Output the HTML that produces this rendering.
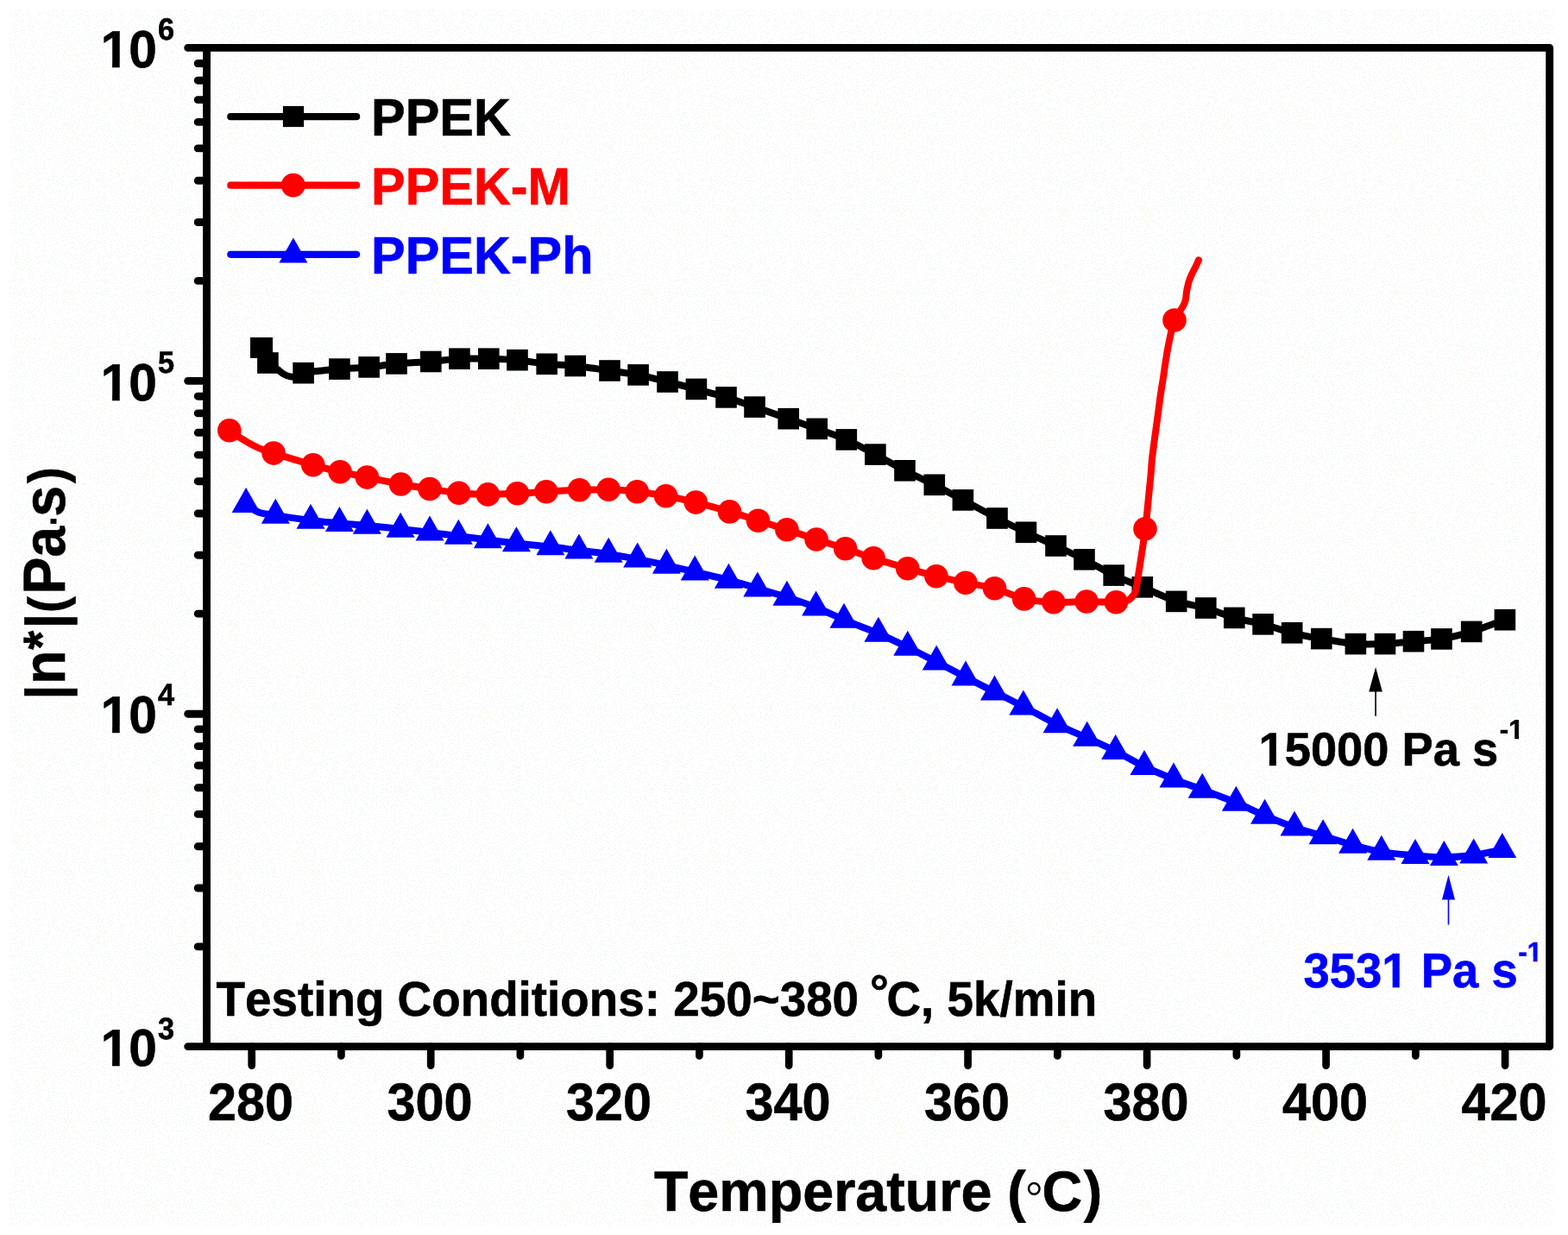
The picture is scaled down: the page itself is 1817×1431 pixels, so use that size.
<!DOCTYPE html>
<html lang="en"><head><meta charset="utf-8"><title>Complex viscosity vs temperature</title>
<style>html,body{margin:0;padding:0;background:#fff}body{width:1817px;height:1431px;overflow:hidden}svg{display:block}text{font-family:"Liberation Sans",sans-serif;font-weight:bold;font-kerning:none;text-rendering:geometricPrecision}</style>
</head><body>
<svg width="1817" height="1431" viewBox="0 0 1817 1431" role="img" aria-label="Complex viscosity versus temperature for PPEK, PPEK-M and PPEK-Ph">
<defs><pattern id="nz" width="96" height="96" patternUnits="userSpaceOnUse">
<rect width="96" height="96" fill="#fff"/>
<path fill="#e3f0f1" d="M57 71h1v1h-1zM65 75h1v1h-1zM24 23h1v1h-1zM65 60h1v1h-1zM23 12h1v1h-1zM57 38h1v1h-1zM18 11h1v1h-1zM76 50h1v1h-1zM57 83h1v1h-1zM79 1h1v1h-1zM29 81h1v1h-1zM37 63h1v1h-1zM83 35h1v1h-1zM10 90h1v1h-1zM8 72h1v1h-1zM13 51h1v1h-1zM2 87h1v1h-1zM90 50h1v1h-1zM72 80h1v1h-1zM25 86h1v1h-1zM11 39h1v1h-1zM90 12h1v1h-1zM1 7h1v1h-1zM59 62h1v1h-1zM16 53h1v1h-1zM23 50h1v1h-1zM77 82h1v1h-1zM73 12h1v1h-1zM33 1h1v1h-1zM78 42h1v1h-1zM9 9h1v1h-1zM76 47h1v1h-1zM58 16h1v1h-1zM75 61h1v1h-1zM80 19h1v1h-1zM39 29h1v1h-1zM20 94h1v1h-1zM80 70h1v1h-1zM49 61h1v1h-1zM77 10h1v1h-1zM13 13h1v1h-1zM4 65h1v1h-1zM32 30h1v1h-1zM94 90h1v1h-1zM50 32h1v1h-1zM53 76h1v1h-1zM66 22h1v1h-1zM92 8h1v1h-1zM83 78h1v1h-1zM26 95h1v1h-1zM34 52h1v1h-1zM57 31h1v1h-1zM47 67h1v1h-1zM17 57h1v1h-1zM42 84h1v1h-1zM17 75h1v1h-1zM8 93h1v1h-1zM39 40h1v1h-1zM69 47h1v1h-1zM90 16h1v1h-1zM43 45h1v1h-1zM60 9h1v1h-1zM63 73h1v1h-1zM84 48h1v1h-1zM14 32h1v1h-1zM42 49h1v1h-1zM56 59h1v1h-1zM66 65h1v1h-1zM3 39h1v1h-1zM78 84h1v1h-1zM62 32h1v1h-1zM1 47h1v1h-1zM84 56h1v1h-1zM41 51h1v1h-1zM85 32h1v1h-1zM27 49h1v1h-1zM40 26h1v1h-1zM17 17h1v1h-1zM5 91h1v1h-1zM8 35h1v1h-1zM21 14h1v1h-1zM52 48h1v1h-1zM4 35h1v1h-1zM86 90h1v1h-1zM35 73h1v1h-1zM45 39h1v1h-1zM17 51h1v1h-1zM58 24h1v1h-1zM30 18h1v1h-1zM1 60h1v1h-1zM89 66h1v1h-1zM20 50h1v1h-1zM72 83h1v1h-1zM83 26h1v1h-1zM12 92h1v1h-1zM31 49h1v1h-1zM68 41h1v1h-1zM4 56h1v1h-1zM53 35h1v1h-1zM27 8h1v1h-1zM19 66h1v1h-1zM92 66h1v1h-1zM71 37h1v1h-1zM81 21h1v1h-1zM39 85h1v1h-1zM26 38h1v1h-1zM18 69h1v1h-1zM25 52h1v1h-1zM68 14h1v1h-1zM3 68h1v1h-1zM72 15h1v1h-1zM88 21h1v1h-1zM8 68h1v1h-1zM43 55h1v1h-1zM60 67h1v1h-1zM40 13h1v1h-1zM89 2h1v1h-1zM19 29h1v1h-1zM31 79h1v1h-1zM63 13h1v1h-1zM78 75h1v1h-1zM93 11h1v1h-1zM12 55h1v1h-1zM87 45h1v1h-1zM46 14h1v1h-1zM24 9h1v1h-1zM3 4h1v1h-1zM61 18h1v1h-1zM36 86h1v1h-1zM12 74h1v1h-1zM9 12h1v1h-1zM59 54h1v1h-1zM52 58h1v1h-1zM46 94h1v1h-1zM47 51h1v1h-1zM51 72h1v1h-1zM43 33h1v1h-1zM17 42h1v1h-1zM47 55h1v1h-1zM9 49h1v1h-1zM65 63h1v1h-1zM78 13h1v1h-1zM94 30h1v1h-1zM32 56h1v1h-1zM51 64h1v1h-1zM33 32h1v1h-1zM65 53h1v1h-1zM5 49h1v1h-1zM36 67h1v1h-1zM34 71h1v1h-1zM52 87h1v1h-1zM40 95h1v1h-1zM50 6h1v1h-1zM28 54h1v1h-1zM67 19h1v1h-1zM33 81h1v1h-1zM17 37h1v1h-1zM93 16h1v1h-1zM39 64h1v1h-1zM35 34h1v1h-1zM35 30h1v1h-1zM7 1h1v1h-1zM61 61h1v1h-1zM45 26h1v1h-1zM41 37h1v1h-1zM72 72h1v1h-1zM35 56h1v1h-1zM28 51h1v1h-1zM46 46h1v1h-1zM86 50h1v1h-1zM74 49h1v1h-1zM72 47h1v1h-1zM58 36h1v1h-1zM74 69h1v1h-1zM39 69h1v1h-1zM10 42h1v1h-1zM44 43h1v1h-1zM53 53h1v1h-1zM94 20h1v1h-1zM49 54h1v1h-1zM7 58h1v1h-1zM75 30h1v1h-1zM65 28h1v1h-1zM22 39h1v1h-1zM70 61h1v1h-1zM51 43h1v1h-1zM84 30h1v1h-1zM20 53h1v1h-1zM20 41h1v1h-1zM18 33h1v1h-1zM19 16h1v1h-1zM34 78h1v1h-1zM12 61h1v1h-1zM53 24h1v1h-1zM52 67h1v1h-1zM63 20h1v1h-1zM39 59h1v1h-1zM8 46h1v1h-1zM17 13h1v1h-1zM37 72h1v1h-1zM1 92h1v1h-1zM26 78h1v1h-1zM57 48h1v1h-1zM90 22h1v1h-1zM51 4h1v1h-1zM15 55h1v1h-1zM18 88h1v1h-1zM67 2h1v1h-1zM24 43h1v1h-1zM91 20h1v1h-1zM32 68h1v1h-1zM29 45h1v1h-1zM65 18h1v1h-1zM73 53h1v1h-1zM46 34h1v1h-1zM57 93h1v1h-1zM95 42h1v1h-1zM76 18h1v1h-1zM15 0h1v1h-1zM46 30h1v1h-1zM21 23h1v1h-1zM85 94h1v1h-1zM49 15h1v1h-1zM72 42h1v1h-1zM88 52h1v1h-1zM6 37h1v1h-1zM75 8h1v1h-1zM31 15h1v1h-1zM6 60h1v1h-1zM67 30h1v1h-1zM83 95h1v1h-1zM16 15h1v1h-1zM58 0h1v1h-1zM18 45h1v1h-1zM29 5h1v1h-1zM60 26h1v1h-1zM88 7h1v1h-1zM25 40h1v1h-1zM45 60h1v1h-1zM81 89h1v1h-1zM6 83h1v1h-1zM10 21h1v1h-1zM28 39h1v1h-1zM34 23h1v1h-1zM75 66h1v1h-1zM5 0h1v1h-1zM66 37h1v1h-1zM22 76h1v1h-1zM30 85h1v1h-1zM22 72h1v1h-1zM33 75h1v1h-1zM20 63h1v1h-1zM88 84h1v1h-1zM30 52h1v1h-1zM22 59h1v1h-1zM76 59h1v1h-1zM26 69h1v1h-1zM88 35h1v1h-1zM91 27h1v1h-1zM46 7h1v1h-1zM30 92h1v1h-1zM48 41h1v1h-1zM62 5h1v1h-1zM16 4h1v1h-1zM66 90h1v1h-1zM26 35h1v1h-1zM95 80h1v1h-1zM85 15h1v1h-1zM15 50h1v1h-1zM63 90h1v1h-1zM19 61h1v1h-1zM74 32h1v1h-1zM8 51h1v1h-1zM9 3h1v1h-1zM41 47h1v1h-1zM87 64h1v1h-1zM34 39h1v1h-1zM36 46h1v1h-1zM31 46h1v1h-1zM22 65h1v1h-1zM91 87h1v1h-1zM41 23h1v1h-1zM83 23h1v1h-1zM18 73h1v1h-1zM49 86h1v1h-1zM15 19h1v1h-1zM35 80h1v1h-1zM71 6h1v1h-1zM19 8h1v1h-1zM0 39h1v1h-1zM85 10h1v1h-1zM0 23h1v1h-1zM43 61h1v1h-1zM17 25h1v1h-1zM52 61h1v1h-1zM7 27h1v1h-1zM24 37h1v1h-1zM39 8h1v1h-1zM80 81h1v1h-1zM12 33h1v1h-1zM41 68h1v1h-1zM26 2h1v1h-1zM8 75h1v1h-1zM63 52h1v1h-1zM1 18h1v1h-1zM93 81h1v1h-1zM82 7h1v1h-1zM56 91h1v1h-1zM36 75h1v1h-1zM5 76h1v1h-1zM32 94h1v1h-1zM71 56h1v1h-1zM49 3h1v1h-1zM40 80h1v1h-1zM8 88h1v1h-1zM12 44h1v1h-1zM76 28h1v1h-1zM53 42h1v1h-1zM40 61h1v1h-1zM85 83h1v1h-1zM14 7h1v1h-1zM26 63h1v1h-1zM10 0h1v1h-1zM21 83h1v1h-1zM60 15h1v1h-1zM75 52h1v1h-1zM57 21h1v1h-1zM72 67h1v1h-1zM22 52h1v1h-1zM14 94h1v1h-1zM50 80h1v1h-1zM49 45h1v1h-1zM91 47h1v1h-1zM88 47h1v1h-1zM19 36h1v1h-1zM43 81h1v1h-1zM74 41h1v1h-1zM44 93h1v1h-1zM5 32h1v1h-1zM44 15h1v1h-1zM74 21h1v1h-1zM37 77h1v1h-1zM72 93h1v1h-1zM86 23h1v1h-1zM4 13h1v1h-1zM88 77h1v1h-1zM33 6h1v1h-1zM22 25h1v1h-1zM32 73h1v1h-1zM56 27h1v1h-1zM89 86h1v1h-1zM11 10h1v1h-1zM60 86h1v1h-1zM36 20h1v1h-1zM3 28h1v1h-1zM69 75h1v1h-1zM81 12h1v1h-1zM82 18h1v1h-1zM45 71h1v1h-1zM16 87h1v1h-1zM38 22h1v1h-1zM51 82h1v1h-1zM0 72h1v1h-1zM55 40h1v1h-1zM59 34h1v1h-1zM13 42h1v1h-1zM36 25h1v1h-1zM30 55h1v1h-1zM23 70h1v1h-1zM59 79h1v1h-1zM32 4h1v1h-1zM94 60h1v1h-1zM92 77h1v1h-1zM83 38h1v1h-1zM2 53h1v1h-1zM33 11h1v1h-1zM78 48h1v1h-1zM95 55h1v1h-1zM72 2h1v1h-1zM50 84h1v1h-1zM3 94h1v1h-1zM41 43h1v1h-1zM95 8h1v1h-1zM78 22h1v1h-1zM5 85h1v1h-1zM1 2h1v1h-1zM56 88h1v1h-1zM71 87h1v1h-1zM91 82h1v1h-1zM75 35h1v1h-1zM81 85h1v1h-1zM24 57h1v1h-1zM3 24h1v1h-1zM89 93h1v1h-1zM46 64h1v1h-1zM16 78h1v1h-1zM87 4h1v1h-1zM73 86h1v1h-1zM82 82h1v1h-1z"/>
<path fill="#e9f1d9" d="M59 57h1v1h-1zM81 5h1v1h-1zM83 20h1v1h-1zM67 8h1v1h-1zM24 30h1v1h-1zM76 3h1v1h-1zM10 58h1v1h-1zM52 70h1v1h-1zM29 65h1v1h-1zM36 3h1v1h-1zM13 37h1v1h-1zM49 8h1v1h-1zM0 27h1v1h-1zM42 1h1v1h-1zM17 31h1v1h-1zM22 87h1v1h-1zM24 93h1v1h-1zM82 49h1v1h-1zM53 27h1v1h-1zM0 34h1v1h-1zM75 38h1v1h-1zM2 26h1v1h-1zM5 18h1v1h-1zM37 49h1v1h-1zM74 81h1v1h-1zM73 17h1v1h-1zM78 31h1v1h-1zM92 24h1v1h-1zM53 6h1v1h-1zM16 29h1v1h-1zM61 71h1v1h-1zM22 36h1v1h-1zM11 46h1v1h-1zM60 45h1v1h-1zM89 39h1v1h-1zM9 61h1v1h-1zM94 5h1v1h-1zM94 94h1v1h-1zM10 87h1v1h-1zM1 79h1v1h-1zM48 74h1v1h-1zM53 93h1v1h-1zM74 58h1v1h-1zM21 43h1v1h-1zM25 81h1v1h-1zM55 25h1v1h-1zM28 74h1v1h-1zM80 66h1v1h-1zM63 86h1v1h-1zM79 57h1v1h-1zM41 9h1v1h-1zM77 5h1v1h-1zM25 25h1v1h-1zM22 91h1v1h-1zM4 22h1v1h-1zM28 34h1v1h-1zM44 69h1v1h-1zM89 28h1v1h-1zM11 52h1v1h-1zM92 49h1v1h-1zM82 91h1v1h-1zM33 91h1v1h-1zM2 44h1v1h-1zM42 87h1v1h-1zM71 32h1v1h-1zM67 34h1v1h-1zM73 63h1v1h-1zM64 0h1v1h-1zM62 11h1v1h-1zM31 60h1v1h-1zM63 16h1v1h-1zM33 16h1v1h-1zM63 93h1v1h-1zM25 89h1v1h-1zM81 52h1v1h-1zM67 78h1v1h-1zM27 67h1v1h-1zM40 77h1v1h-1zM27 24h1v1h-1zM12 17h1v1h-1zM80 87h1v1h-1zM90 64h1v1h-1zM7 17h1v1h-1zM65 45h1v1h-1zM24 77h1v1h-1zM76 24h1v1h-1zM35 14h1v1h-1zM60 12h1v1h-1zM27 84h1v1h-1zM6 25h1v1h-1zM70 69h1v1h-1zM7 54h1v1h-1zM39 46h1v1h-1zM61 83h1v1h-1zM91 95h1v1h-1zM74 5h1v1h-1zM74 92h1v1h-1zM15 46h1v1h-1zM56 17h1v1h-1zM53 46h1v1h-1zM95 67h1v1h-1zM79 45h1v1h-1zM70 30h1v1h-1zM56 54h1v1h-1zM70 95h1v1h-1zM23 54h1v1h-1zM45 84h1v1h-1zM31 10h1v1h-1zM3 46h1v1h-1zM72 22h1v1h-1zM69 20h1v1h-1zM83 54h1v1h-1zM28 62h1v1h-1zM66 43h1v1h-1zM17 63h1v1h-1zM5 52h1v1h-1zM85 44h1v1h-1zM46 90h1v1h-1zM60 39h1v1h-1zM19 22h1v1h-1zM76 91h1v1h-1zM56 23h1v1h-1zM33 62h1v1h-1zM84 70h1v1h-1zM79 34h1v1h-1zM66 68h1v1h-1zM64 38h1v1h-1zM87 11h1v1h-1zM95 15h1v1h-1zM91 90h1v1h-1zM60 30h1v1h-1zM32 24h1v1h-1zM25 48h1v1h-1zM60 92h1v1h-1zM18 79h1v1h-1zM78 89h1v1h-1zM56 13h1v1h-1zM78 64h1v1h-1zM3 80h1v1h-1zM42 11h1v1h-1zM69 71h1v1h-1zM76 70h1v1h-1zM23 84h1v1h-1zM59 4h1v1h-1zM72 51h1v1h-1zM85 18h1v1h-1zM88 72h1v1h-1zM62 59h1v1h-1zM55 15h1v1h-1zM64 50h1v1h-1zM30 8h1v1h-1zM12 66h1v1h-1zM68 73h1v1h-1zM37 31h1v1h-1zM22 8h1v1h-1zM67 50h1v1h-1zM15 90h1v1h-1zM16 81h1v1h-1zM19 4h1v1h-1zM77 55h1v1h-1zM69 28h1v1h-1zM41 19h1v1h-1zM18 6h1v1h-1zM39 54h1v1h-1zM21 48h1v1h-1zM7 40h1v1h-1zM48 48h1v1h-1zM23 62h1v1h-1zM46 17h1v1h-1zM85 7h1v1h-1zM24 19h1v1h-1zM88 17h1v1h-1zM28 13h1v1h-1zM27 17h1v1h-1zM63 7h1v1h-1zM62 49h1v1h-1zM25 60h1v1h-1zM39 89h1v1h-1zM2 50h1v1h-1zM48 63h1v1h-1zM19 77h1v1h-1zM24 34h1v1h-1zM0 69h1v1h-1zM30 70h1v1h-1zM88 62h1v1h-1zM53 32h1v1h-1zM6 20h1v1h-1zM50 92h1v1h-1zM3 71h1v1h-1zM51 90h1v1h-1zM57 45h1v1h-1zM55 2h1v1h-1zM80 54h1v1h-1zM29 48h1v1h-1zM79 40h1v1h-1zM46 22h1v1h-1zM43 89h1v1h-1zM77 26h1v1h-1zM23 16h1v1h-1zM78 79h1v1h-1zM15 36h1v1h-1zM82 58h1v1h-1zM95 52h1v1h-1zM84 88h1v1h-1zM13 69h1v1h-1zM83 51h1v1h-1zM44 52h1v1h-1zM53 38h1v1h-1zM33 28h1v1h-1zM42 57h1v1h-1zM15 66h1v1h-1zM42 4h1v1h-1zM7 62h1v1h-1zM70 17h1v1h-1zM66 87h1v1h-1zM73 75h1v1h-1zM48 31h1v1h-1zM67 58h1v1h-1zM23 79h1v1h-1zM37 36h1v1h-1zM64 34h1v1h-1zM14 73h1v1h-1zM9 38h1v1h-1zM77 62h1v1h-1zM21 11h1v1h-1zM61 28h1v1h-1zM20 18h1v1h-1zM43 17h1v1h-1zM85 58h1v1h-1zM51 94h1v1h-1zM20 89h1v1h-1zM87 0h1v1h-1zM84 63h1v1h-1zM81 64h1v1h-1zM43 25h1v1h-1zM88 57h1v1h-1zM8 85h1v1h-1zM29 29h1v1h-1zM81 68h1v1h-1zM69 53h1v1h-1zM59 88h1v1h-1zM78 52h1v1h-1zM26 46h1v1h-1zM38 79h1v1h-1zM91 43h1v1h-1zM3 17h1v1h-1zM37 53h1v1h-1zM26 22h1v1h-1zM6 89h1v1h-1zM45 9h1v1h-1zM28 21h1v1h-1zM82 41h1v1h-1zM4 30h1v1h-1zM65 12h1v1h-1zM50 37h1v1h-1zM80 50h1v1h-1zM80 74h1v1h-1zM93 0h1v1h-1zM32 87h1v1h-1z"/>
<path fill="#ffeef3" d="M80 78h1v1h-1zM68 88h1v1h-1zM94 78h1v1h-1zM7 4h1v1h-1zM59 41h1v1h-1zM56 75h1v1h-1zM25 66h1v1h-1zM0 84h1v1h-1zM32 40h1v1h-1zM26 6h1v1h-1zM60 48h1v1h-1zM53 9h1v1h-1zM34 43h1v1h-1zM52 15h1v1h-1zM71 24h1v1h-1zM57 65h1v1h-1zM27 56h1v1h-1zM11 26h1v1h-1zM47 79h1v1h-1zM49 23h1v1h-1zM62 37h1v1h-1zM35 27h1v1h-1zM93 88h1v1h-1zM4 2h1v1h-1zM17 9h1v1h-1zM53 3h1v1h-1zM11 81h1v1h-1zM69 10h1v1h-1zM61 2h1v1h-1zM29 89h1v1h-1zM14 63h1v1h-1zM38 18h1v1h-1zM86 78h1v1h-1zM63 30h1v1h-1zM63 44h1v1h-1zM40 91h1v1h-1zM83 72h1v1h-1zM2 82h1v1h-1zM6 80h1v1h-1zM14 57h1v1h-1zM13 80h1v1h-1zM68 83h1v1h-1zM81 47h1v1h-1zM68 91h1v1h-1zM64 78h1v1h-1zM48 70h1v1h-1zM15 27h1v1h-1zM64 10h1v1h-1zM22 68h1v1h-1zM17 60h1v1h-1zM56 63h1v1h-1zM74 88h1v1h-1zM56 67h1v1h-1zM93 71h1v1h-1zM58 52h1v1h-1zM51 34h1v1h-1zM36 41h1v1h-1zM92 45h1v1h-1zM67 55h1v1h-1zM44 23h1v1h-1zM2 12h1v1h-1zM25 72h1v1h-1zM81 43h1v1h-1zM70 78h1v1h-1zM65 72h1v1h-1zM22 20h1v1h-1zM87 59h1v1h-1zM89 5h1v1h-1zM90 80h1v1h-1zM26 92h1v1h-1zM43 38h1v1h-1zM6 29h1v1h-1zM34 85h1v1h-1zM38 43h1v1h-1zM9 70h1v1h-1zM76 85h1v1h-1zM60 21h1v1h-1zM63 69h1v1h-1zM1 31h1v1h-1zM92 61h1v1h-1zM6 45h1v1h-1zM85 53h1v1h-1zM58 76h1v1h-1zM89 75h1v1h-1zM64 83h1v1h-1zM79 4h1v1h-1zM13 28h1v1h-1zM69 35h1v1h-1zM86 20h1v1h-1zM79 27h1v1h-1zM49 19h1v1h-1zM92 41h1v1h-1zM67 39h1v1h-1zM94 13h1v1h-1zM12 95h1v1h-1zM69 81h1v1h-1zM1 14h1v1h-1zM35 7h1v1h-1zM38 82h1v1h-1zM2 74h1v1h-1zM66 16h1v1h-1zM81 94h1v1h-1zM93 51h1v1h-1zM40 31h1v1h-1zM89 42h1v1h-1zM33 21h1v1h-1zM2 20h1v1h-1zM52 79h1v1h-1zM88 13h1v1h-1zM93 85h1v1h-1zM21 28h1v1h-1zM93 38h1v1h-1zM39 3h1v1h-1zM88 25h1v1h-1zM0 63h1v1h-1zM7 23h1v1h-1zM74 77h1v1h-1zM6 73h1v1h-1zM83 65h1v1h-1zM27 90h1v1h-1zM62 76h1v1h-1zM95 58h1v1h-1zM66 95h1v1h-1zM29 37h1v1h-1zM11 29h1v1h-1zM43 78h1v1h-1zM43 72h1v1h-1zM50 27h1v1h-1zM9 6h1v1h-1zM94 33h1v1h-1zM57 10h1v1h-1zM1 95h1v1h-1zM27 71h1v1h-1zM89 70h1v1h-1zM46 3h1v1h-1zM73 90h1v1h-1zM50 0h1v1h-1zM13 2h1v1h-1zM68 63h1v1h-1zM86 61h1v1h-1zM50 49h1v1h-1zM93 68h1v1h-1zM62 55h1v1h-1zM32 35h1v1h-1zM51 39h1v1h-1zM39 35h1v1h-1zM42 27h1v1h-1zM69 38h1v1h-1zM51 12h1v1h-1zM55 85h1v1h-1zM65 4h1v1h-1zM8 19h1v1h-1zM48 1h1v1h-1zM9 80h1v1h-1zM84 12h1v1h-1zM16 84h1v1h-1zM71 13h1v1h-1zM52 1h1v1h-1zM47 10h1v1h-1zM46 76h1v1h-1zM44 6h1v1h-1zM48 57h1v1h-1zM86 55h1v1h-1zM91 14h1v1h-1zM35 60h1v1h-1zM44 20h1v1h-1zM8 32h1v1h-1zM55 79h1v1h-1zM13 86h1v1h-1zM47 88h1v1h-1zM69 93h1v1h-1zM44 29h1v1h-1zM34 19h1v1h-1zM42 66h1v1h-1zM47 85h1v1h-1zM48 36h1v1h-1zM15 39h1v1h-1zM2 9h1v1h-1zM64 23h1v1h-1zM5 43h1v1h-1zM59 7h1v1h-1zM63 81h1v1h-1zM6 10h1v1h-1zM91 35h1v1h-1zM68 6h1v1h-1zM60 95h1v1h-1zM74 46h1v1h-1zM8 43h1v1h-1zM52 30h1v1h-1zM60 51h1v1h-1zM95 46h1v1h-1zM12 77h1v1h-1zM2 62h1v1h-1zM85 37h1v1h-1zM87 69h1v1h-1zM86 41h1v1h-1zM38 33h1v1h-1zM6 14h1v1h-1zM20 46h1v1h-1zM85 3h1v1h-1zM60 64h1v1h-1zM40 71h1v1h-1z"/>
</pattern></defs>
<rect x="0" y="0" width="1817" height="1431" fill="#fff"/>
<rect x="11" y="11" width="1789" height="1410" fill="url(#nz)"/>
<g fill="none" stroke="#000" stroke-width="8.9" stroke-linecap="round" stroke-linejoin="round">
<path d="M239.5 55.4H1795.7V1212.6H239.5Z"/>
<path d="M239.5 1212.6H217.7M239.5 1096.9H229.2M239.5 1029.0H229.2M239.5 980.8H229.2M239.5 943.4H229.2M239.5 912.8H229.2M239.5 887.0H229.2M239.5 864.6H229.2M239.5 844.9H229.2M239.5 827.2H217.7M239.5 711.1H229.2M239.5 643.2H229.2M239.5 595.0H229.2M239.5 557.7H229.2M239.5 527.1H229.2M239.5 501.3H229.2M239.5 478.9H229.2M239.5 459.2H229.2M239.5 441.4H217.7M239.5 325.4H229.2M239.5 257.5H229.2M239.5 209.3H229.2M239.5 171.9H229.2M239.5 141.4H229.2M239.5 115.6H229.2M239.5 93.2H229.2M239.5 73.5H229.2M239.5 55.4H217.7"/>
<path d="M291.7 1212.6V1234.6M395.4 1212.6V1223.5M499.2 1212.6V1234.6M602.9 1212.6V1223.5M706.7 1212.6V1234.6M810.4 1212.6V1223.5M914.2 1212.6V1234.6M1017.9 1212.6V1223.5M1121.6 1212.6V1234.6M1225.4 1212.6V1223.5M1329.1 1212.6V1234.6M1432.9 1212.6V1223.5M1536.6 1212.6V1234.6M1640.4 1212.6V1223.5M1744.1 1212.6V1234.6" stroke-width="8.7"/>
</g>
<clipPath id="c1" clipPathUnits="userSpaceOnUse"><path clip-rule="evenodd" d="M-3000 -3000H3000V3000H-3000ZM1.19 -7.39H13.87V2.00H1.19ZM22.80 -7.39H34.68V2.00H22.80Z"/></clipPath>
<text stroke="#000" stroke-width="0.6" stroke-linejoin="miter" clip-path="url(#c1)" transform="translate(116.70 1235.30) scale(0.9650 1)" font-size="60.70" fill="#000">10<tspan font-size="35.6" dx="1.3" dy="-31.8">3</tspan></text>
<text stroke="#000" stroke-width="0.6" stroke-linejoin="miter" clip-path="url(#c1)" transform="translate(116.70 848.67) scale(0.9650 1)" font-size="60.70" fill="#000">10<tspan font-size="35.6" dx="1.3" dy="-31.8">4</tspan></text>
<text stroke="#000" stroke-width="0.6" stroke-linejoin="miter" clip-path="url(#c1)" transform="translate(116.70 463.83) scale(0.9650 1)" font-size="60.70" fill="#000">10<tspan font-size="35.6" dx="1.3" dy="-31.8">5</tspan></text>
<text stroke="#000" stroke-width="0.6" stroke-linejoin="miter" clip-path="url(#c1)" transform="translate(116.70 78.10) scale(0.9650 1)" font-size="60.70" fill="#000">10<tspan font-size="35.6" dx="1.3" dy="-31.8">6</tspan></text>
<text stroke="#000" stroke-width="0.6" stroke-linejoin="miter" transform="translate(290.47 1297.80) scale(0.9670 1)" font-size="61.40" fill="#000" text-anchor="middle">280</text>
<text stroke="#000" stroke-width="0.6" stroke-linejoin="miter" transform="translate(497.97 1297.80) scale(0.9670 1)" font-size="61.40" fill="#000" text-anchor="middle">300</text>
<text stroke="#000" stroke-width="0.6" stroke-linejoin="miter" transform="translate(705.46 1297.80) scale(0.9670 1)" font-size="61.40" fill="#000" text-anchor="middle">320</text>
<text stroke="#000" stroke-width="0.6" stroke-linejoin="miter" transform="translate(912.95 1297.80) scale(0.9670 1)" font-size="61.40" fill="#000" text-anchor="middle">340</text>
<text stroke="#000" stroke-width="0.6" stroke-linejoin="miter" transform="translate(1120.45 1297.80) scale(0.9670 1)" font-size="61.40" fill="#000" text-anchor="middle">360</text>
<text stroke="#000" stroke-width="0.6" stroke-linejoin="miter" transform="translate(1327.94 1297.80) scale(0.9670 1)" font-size="61.40" fill="#000" text-anchor="middle">380</text>
<text stroke="#000" stroke-width="0.6" stroke-linejoin="miter" transform="translate(1535.43 1297.80) scale(0.9670 1)" font-size="61.40" fill="#000" text-anchor="middle">400</text>
<text stroke="#000" stroke-width="0.6" stroke-linejoin="miter" transform="translate(1742.93 1297.80) scale(0.9670 1)" font-size="61.40" fill="#000" text-anchor="middle">420</text>
<text stroke="#000" stroke-width="0.6" stroke-linejoin="miter" transform="translate(757.9 1403.3) scale(0.9838 1)" font-size="65.7">Temperature (<tspan font-family="Liberation Serif,serif" font-weight="normal" stroke="none" font-size="50" dx="-0.3" dy="-0.5">°</tspan><tspan dx="-0.8" dy="0.5">C</tspan><tspan dx="1.6">)</tspan></text>
<text stroke="#000" stroke-width="0.6" stroke-linejoin="miter" transform="translate(74.5 810.4) rotate(-90) scale(0.9375 1)" font-size="68.7"><tspan font-size="64.5">|</tspan><tspan dx="0.6">n</tspan><tspan font-size="60" dx="1" dy="-6">*</tspan><tspan font-size="64.5" dx="3" dy="6">|</tspan><tspan font-size="60" dx="1">(</tspan><tspan dx="2.9">Pa</tspan><tspan font-size="42" dx="0.5" dy="1.5">·</tspan><tspan dx="-2.7" dy="-1.5">s</tspan><tspan font-size="60" dx="3.2">)</tspan></text>
<path fill="none" stroke="#000" stroke-width="8" stroke-linecap="round" stroke-linejoin="round" d="M303.2 402.9C304.2 405.2 308.6 417.6 310.4 420.5C312.2 423.4 315.0 423.5 316.5 424.5C318.0 425.5 320.3 427.1 322.0 428.3C323.7 429.5 327.1 432.5 329.0 433.6C330.9 434.7 334.5 436.1 336.5 436.4C338.5 436.7 342.0 436.6 344.0 436.0C346.0 435.4 345.0 433.3 351.6 432.2C358.2 431.1 383.3 428.5 393.4 427.6C403.5 426.7 418.8 426.2 427.6 425.4C436.4 424.6 449.9 422.3 459.5 421.4C469.1 420.5 489.6 419.8 499.3 419.0C509.0 418.2 523.5 416.1 532.4 415.7C541.3 415.3 557.4 415.5 566.3 415.7C575.2 415.9 590.5 416.4 599.5 417.2C608.5 418.0 624.7 420.9 633.7 421.8C642.7 422.7 657.0 423.0 666.7 424.0C676.4 425.0 696.8 428.1 706.5 429.5C716.2 430.9 730.7 432.7 739.6 434.4C748.5 436.1 764.5 440.3 773.5 442.5C782.5 444.7 797.8 448.5 806.9 450.9C816.0 453.3 832.5 457.6 841.5 460.4C850.5 463.2 864.9 468.3 874.5 471.6C884.1 474.9 904.1 481.8 913.7 485.2C923.3 488.6 937.8 493.7 946.7 496.9C955.6 500.1 971.8 505.4 980.8 509.4C989.8 513.4 1005.4 521.8 1014.4 526.6C1023.4 531.4 1039.4 540.6 1048.5 545.3C1057.6 550.0 1073.8 557.3 1082.8 561.8C1091.8 566.3 1106.2 574.2 1115.9 579.4C1125.6 584.6 1145.8 595.5 1155.5 600.5C1165.2 605.5 1179.9 612.5 1189.0 616.8C1198.1 621.1 1214.5 628.3 1223.5 632.5C1232.5 636.7 1247.5 643.8 1256.5 648.3C1265.5 652.8 1281.7 662.3 1290.7 666.6C1299.7 670.9 1314.1 676.3 1323.8 680.3C1333.5 684.3 1353.4 693.7 1363.2 696.9C1373.0 700.1 1388.4 702.0 1397.3 704.5C1406.2 707.0 1421.5 713.4 1430.3 715.9C1439.1 718.4 1454.7 721.0 1463.6 723.3C1472.5 725.6 1488.2 731.1 1497.2 733.3C1506.2 735.5 1521.5 738.4 1531.3 740.1C1541.1 741.8 1561.1 745.3 1570.9 746.1C1580.7 746.9 1596.1 746.5 1605.0 746.1C1613.9 745.7 1629.3 744.0 1638.0 743.2C1646.7 742.4 1661.5 741.9 1670.5 740.4C1679.5 738.9 1695.4 734.9 1705.2 731.9C1715.0 728.9 1738.7 720.0 1743.9 718.2"/>
<g fill="#000">
<rect x="290.0" y="390.9" width="26.0" height="24.0"/>
<rect x="298.1" y="408.2" width="24.6" height="24.6"/>
<rect x="339.3" y="419.9" width="24.6" height="24.6"/>
<rect x="381.1" y="415.3" width="24.6" height="24.6"/>
<rect x="415.3" y="413.1" width="24.6" height="24.6"/>
<rect x="447.2" y="409.1" width="24.6" height="24.6"/>
<rect x="487.0" y="406.7" width="24.6" height="24.6"/>
<rect x="520.1" y="403.4" width="24.6" height="24.6"/>
<rect x="554.0" y="403.4" width="24.6" height="24.6"/>
<rect x="587.2" y="404.9" width="24.6" height="24.6"/>
<rect x="621.4" y="409.5" width="24.6" height="24.6"/>
<rect x="654.4" y="411.7" width="24.6" height="24.6"/>
<rect x="694.2" y="417.2" width="24.6" height="24.6"/>
<rect x="727.3" y="422.1" width="24.6" height="24.6"/>
<rect x="761.2" y="430.2" width="24.6" height="24.6"/>
<rect x="794.6" y="438.6" width="24.6" height="24.6"/>
<rect x="829.2" y="448.1" width="24.6" height="24.6"/>
<rect x="862.2" y="459.3" width="24.6" height="24.6"/>
<rect x="901.4" y="472.9" width="24.6" height="24.6"/>
<rect x="934.4" y="484.6" width="24.6" height="24.6"/>
<rect x="968.5" y="497.1" width="24.6" height="24.6"/>
<rect x="1002.1" y="514.3" width="24.6" height="24.6"/>
<rect x="1036.2" y="533.0" width="24.6" height="24.6"/>
<rect x="1070.5" y="549.5" width="24.6" height="24.6"/>
<rect x="1103.6" y="567.1" width="24.6" height="24.6"/>
<rect x="1143.2" y="588.2" width="24.6" height="24.6"/>
<rect x="1176.7" y="604.5" width="24.6" height="24.6"/>
<rect x="1211.2" y="620.2" width="24.6" height="24.6"/>
<rect x="1244.2" y="636.0" width="24.6" height="24.6"/>
<rect x="1278.4" y="654.3" width="24.6" height="24.6"/>
<rect x="1311.5" y="668.0" width="24.6" height="24.6"/>
<rect x="1350.9" y="684.6" width="24.6" height="24.6"/>
<rect x="1385.0" y="692.2" width="24.6" height="24.6"/>
<rect x="1418.0" y="703.6" width="24.6" height="24.6"/>
<rect x="1451.3" y="711.0" width="24.6" height="24.6"/>
<rect x="1484.9" y="721.0" width="24.6" height="24.6"/>
<rect x="1519.0" y="727.8" width="24.6" height="24.6"/>
<rect x="1558.6" y="733.8" width="24.6" height="24.6"/>
<rect x="1592.7" y="733.8" width="24.6" height="24.6"/>
<rect x="1625.7" y="730.9" width="24.6" height="24.6"/>
<rect x="1658.2" y="728.1" width="24.6" height="24.6"/>
<rect x="1692.9" y="719.6" width="24.6" height="24.6"/>
<rect x="1731.6" y="705.9" width="24.6" height="24.6"/>
</g>
<path fill="none" stroke="#f00" stroke-width="8" stroke-linecap="round" stroke-linejoin="round" d="M265.8 498.7C267.3 499.8 271.9 503.2 275.0 505.2C278.1 507.2 280.7 508.8 284.1 510.8C287.5 512.8 291.7 515.2 295.3 517.0C298.9 518.8 302.4 520.2 306.0 521.6C309.6 523.0 307.6 522.2 317.1 525.1C326.6 528.0 350.0 535.2 362.8 538.8C375.6 542.4 383.7 544.3 394.1 546.7C404.5 549.1 413.7 550.7 425.4 553.1C437.1 555.5 452.4 558.8 464.5 561.0C476.6 563.2 486.8 564.8 498.0 566.5C509.2 568.2 520.5 570.2 531.7 571.3C542.9 572.4 554.1 572.8 565.4 572.9C576.7 573.0 588.2 572.3 599.5 571.8C610.8 571.3 621.0 570.5 633.0 569.8C645.0 569.1 659.5 568.2 671.5 567.8C683.5 567.4 694.1 567.0 705.2 567.3C716.3 567.6 727.2 568.5 738.3 569.8C749.4 571.0 760.4 572.8 771.7 574.8C783.0 576.8 794.0 579.1 806.3 582.1C818.6 585.1 833.5 589.4 845.5 592.9C857.5 596.4 867.4 599.7 878.5 603.2C889.6 606.7 900.6 610.2 911.9 613.8C923.2 617.4 934.8 621.3 946.1 625.0C957.4 628.7 968.7 632.2 979.7 635.8C990.7 639.4 1000.2 643.0 1012.2 646.8C1024.2 650.6 1039.7 655.2 1051.8 658.7C1063.9 662.2 1073.8 665.0 1085.0 667.7C1096.2 670.5 1107.6 672.9 1118.9 675.2C1130.2 677.6 1141.3 678.7 1152.6 681.8C1163.9 684.9 1175.3 691.2 1186.7 693.9C1198.1 696.6 1208.8 697.3 1220.9 697.8C1233.0 698.3 1247.1 697.0 1259.2 697.0C1271.3 697.0 1286.1 697.8 1293.4 697.8C1300.7 697.8 1300.4 697.5 1303.0 697.0C1305.6 696.5 1307.3 695.7 1309.0 694.5C1310.7 693.3 1311.9 691.3 1313.0 690.0C1314.1 688.7 1314.9 689.1 1315.7 686.6C1316.5 684.1 1317.0 679.8 1317.8 674.8C1318.6 669.8 1319.5 663.8 1320.6 656.9C1321.7 650.0 1323.2 640.6 1324.3 633.2C1325.4 625.8 1326.2 618.6 1327.0 612.6C1327.8 606.6 1328.2 604.0 1328.9 597.5C1329.6 591.0 1330.4 581.7 1331.2 573.8C1332.0 565.9 1333.0 556.9 1333.6 550.0C1334.2 543.1 1334.2 539.5 1334.9 532.6C1335.6 525.7 1336.9 516.7 1337.9 508.8C1339.0 500.9 1340.1 492.9 1341.2 485.0C1342.3 477.1 1343.2 469.2 1344.3 461.3C1345.4 453.4 1346.8 445.4 1348.0 437.5C1349.2 429.6 1350.2 421.6 1351.5 413.8C1352.8 406.1 1354.2 398.1 1355.8 391.0C1357.4 383.9 1358.5 376.9 1361.0 371.0C1363.5 365.1 1368.4 359.4 1370.6 355.4C1372.8 351.4 1373.2 349.9 1373.9 347.1C1374.6 344.3 1374.5 341.2 1374.9 338.7C1375.3 336.2 1375.8 334.1 1376.3 332.0C1376.8 329.9 1377.0 328.3 1377.7 326.1C1378.4 323.9 1379.7 320.7 1380.6 318.6C1381.5 316.5 1382.3 315.3 1383.2 313.5C1384.1 311.7 1385.1 309.7 1386.1 307.7C1387.1 305.7 1388.5 302.4 1389.0 301.4"/>
<g fill="#f00">
<circle cx="265.8" cy="498.7" r="13.8"/>
<circle cx="317.1" cy="525.1" r="13.8"/>
<circle cx="362.8" cy="538.8" r="13.8"/>
<circle cx="394.1" cy="546.7" r="13.8"/>
<circle cx="425.4" cy="553.1" r="13.8"/>
<circle cx="464.5" cy="561.0" r="13.8"/>
<circle cx="498.0" cy="566.5" r="13.8"/>
<circle cx="531.7" cy="571.3" r="13.8"/>
<circle cx="565.4" cy="572.9" r="13.8"/>
<circle cx="599.5" cy="571.8" r="13.8"/>
<circle cx="633.0" cy="569.8" r="13.8"/>
<circle cx="671.5" cy="567.8" r="13.8"/>
<circle cx="705.2" cy="567.3" r="13.8"/>
<circle cx="738.3" cy="569.8" r="13.8"/>
<circle cx="771.7" cy="574.8" r="13.8"/>
<circle cx="806.3" cy="582.1" r="13.8"/>
<circle cx="845.5" cy="592.9" r="13.8"/>
<circle cx="878.5" cy="603.2" r="13.8"/>
<circle cx="911.9" cy="613.8" r="13.8"/>
<circle cx="946.1" cy="625.0" r="13.8"/>
<circle cx="979.7" cy="635.8" r="13.8"/>
<circle cx="1012.2" cy="646.8" r="13.8"/>
<circle cx="1051.8" cy="658.7" r="13.8"/>
<circle cx="1085.0" cy="667.7" r="13.8"/>
<circle cx="1118.9" cy="675.2" r="13.8"/>
<circle cx="1152.6" cy="681.8" r="13.8"/>
<circle cx="1186.7" cy="693.9" r="13.8"/>
<circle cx="1220.9" cy="697.8" r="13.8"/>
<circle cx="1259.2" cy="697.0" r="13.8"/>
<circle cx="1293.4" cy="697.8" r="13.8"/>
<circle cx="1327.0" cy="612.7" r="13.8"/>
<circle cx="1361.0" cy="371.0" r="13.8"/>
</g>
<path fill="none" stroke="#00f" stroke-width="8" stroke-linecap="round" stroke-linejoin="round" d="M285.1 584.3C286.4 585.3 290.4 588.4 293.0 590.0C295.6 591.6 298.5 593.0 300.9 593.9C303.3 594.8 304.5 594.9 307.6 595.4C310.7 595.9 310.6 595.9 319.3 597.1C328.0 598.4 347.6 601.5 360.0 603.0C372.4 604.6 382.5 605.3 393.4 606.3C404.3 607.3 413.6 607.9 425.4 609.0C437.2 610.2 452.0 611.7 464.1 613.0C476.2 614.4 486.8 615.6 498.0 616.9C509.2 618.3 520.1 619.7 531.3 621.1C542.5 622.6 554.2 624.1 565.4 625.5C576.6 626.9 586.3 628.2 598.4 629.5C610.5 630.9 625.8 632.3 637.9 633.6C650.0 635.0 659.7 636.4 670.9 637.8C682.1 639.2 693.9 640.4 705.2 642.0C716.5 643.7 727.5 645.8 738.7 647.9C749.9 650.1 761.3 652.6 772.4 655.0C783.5 657.5 793.2 659.9 805.2 662.7C817.2 665.6 832.3 669.0 844.4 672.1C856.5 675.3 866.5 678.5 877.8 681.8C889.0 685.2 900.6 688.4 911.9 692.0C923.2 695.7 934.6 699.5 945.6 703.8C956.6 708.2 966.0 713.1 978.0 718.1C990.0 723.2 1005.6 728.7 1017.9 734.0C1030.2 739.4 1040.6 744.6 1051.8 750.0C1063.0 755.5 1074.0 761.2 1085.2 766.9C1096.4 772.7 1107.8 778.9 1119.0 784.7C1130.2 790.5 1141.3 796.1 1152.5 801.7C1163.7 807.4 1173.8 812.4 1185.9 818.7C1198.0 825.1 1212.8 833.6 1225.1 839.6C1237.4 845.7 1248.4 849.9 1259.7 855.0C1271.0 860.2 1281.7 864.9 1292.7 870.4C1303.8 876.0 1314.8 882.8 1326.0 888.2C1337.2 893.6 1348.8 898.4 1360.0 902.8C1371.2 907.3 1381.1 910.6 1393.2 915.1C1405.3 919.7 1420.3 925.1 1432.4 930.0C1444.5 935.0 1454.3 940.3 1465.6 945.0C1476.9 949.8 1488.7 954.8 1500.0 958.7C1511.3 962.7 1521.9 965.2 1533.2 968.5C1544.5 971.9 1556.3 975.9 1567.6 979.0C1578.9 982.1 1588.7 985.1 1600.8 987.1C1612.9 989.2 1627.9 990.2 1640.0 991.2C1652.1 992.3 1662.1 993.4 1673.4 993.3C1684.7 993.3 1696.5 992.3 1707.7 990.8C1718.9 989.4 1735.3 985.5 1740.8 984.4"/>
<g fill="#00f">
<path d="M285.1 565.0l16.5 29.0h-33.0z"/>
<path d="M319.3 577.8l16.5 29.0h-33.0z"/>
<path d="M360.0 583.7l16.5 29.0h-33.0z"/>
<path d="M393.4 587.0l16.5 29.0h-33.0z"/>
<path d="M425.4 589.7l16.5 29.0h-33.0z"/>
<path d="M464.1 593.7l16.5 29.0h-33.0z"/>
<path d="M498.0 597.6l16.5 29.0h-33.0z"/>
<path d="M531.3 601.8l16.5 29.0h-33.0z"/>
<path d="M565.4 606.2l16.5 29.0h-33.0z"/>
<path d="M598.4 610.2l16.5 29.0h-33.0z"/>
<path d="M637.9 614.3l16.5 29.0h-33.0z"/>
<path d="M670.9 618.5l16.5 29.0h-33.0z"/>
<path d="M705.2 622.7l16.5 29.0h-33.0z"/>
<path d="M738.7 628.6l16.5 29.0h-33.0z"/>
<path d="M772.4 635.7l16.5 29.0h-33.0z"/>
<path d="M805.2 643.4l16.5 29.0h-33.0z"/>
<path d="M844.4 652.8l16.5 29.0h-33.0z"/>
<path d="M877.8 662.5l16.5 29.0h-33.0z"/>
<path d="M911.9 672.7l16.5 29.0h-33.0z"/>
<path d="M945.6 684.5l16.5 29.0h-33.0z"/>
<path d="M978.0 698.8l16.5 29.0h-33.0z"/>
<path d="M1017.9 714.7l16.5 29.0h-33.0z"/>
<path d="M1051.8 730.7l16.5 29.0h-33.0z"/>
<path d="M1085.2 747.6l16.5 29.0h-33.0z"/>
<path d="M1119.0 765.4l16.5 29.0h-33.0z"/>
<path d="M1152.5 782.4l16.5 29.0h-33.0z"/>
<path d="M1185.9 799.4l16.5 29.0h-33.0z"/>
<path d="M1225.1 820.3l16.5 29.0h-33.0z"/>
<path d="M1259.7 835.7l16.5 29.0h-33.0z"/>
<path d="M1292.7 851.1l16.5 29.0h-33.0z"/>
<path d="M1326.0 868.9l16.5 29.0h-33.0z"/>
<path d="M1360.0 883.5l16.5 29.0h-33.0z"/>
<path d="M1393.2 895.8l16.5 29.0h-33.0z"/>
<path d="M1432.4 910.7l16.5 29.0h-33.0z"/>
<path d="M1465.6 925.7l16.5 29.0h-33.0z"/>
<path d="M1500.0 939.4l16.5 29.0h-33.0z"/>
<path d="M1533.2 949.2l16.5 29.0h-33.0z"/>
<path d="M1567.6 959.7l16.5 29.0h-33.0z"/>
<path d="M1600.8 967.8l16.5 29.0h-33.0z"/>
<path d="M1640.0 971.9l16.5 29.0h-33.0z"/>
<path d="M1673.4 974.0l16.5 29.0h-33.0z"/>
<path d="M1707.7 971.5l16.5 29.0h-33.0z"/>
<path d="M1740.8 965.1l16.5 29.0h-33.0z"/>
</g>
<g fill="none" stroke-width="8.2" stroke-linecap="round">
<path stroke="#000" d="M267.3 135.2H413.1"/>
<path stroke="#f00" d="M267.3 214.7H413.1"/>
<path stroke="#00f" d="M267.3 294.8H413.1"/>
</g>
<rect x="327.9" y="122.9" width="24.2" height="24.2" fill="#000"/>
<circle cx="339.8" cy="214.7" r="13.9" fill="#f00"/>
<path d="M339.9 275.6l16.5 29h-33z" fill="#00f"/>
<text stroke="#000" stroke-width="0.6" stroke-linejoin="miter" transform="translate(430.10 157.00) scale(0.9754 1)" font-size="60.90" fill="#000">PPEK</text>
<text stroke="#f00" stroke-width="0.6" stroke-linejoin="miter" transform="translate(430.10 237.00) scale(0.9754 1)" font-size="60.90" fill="#f00">PPEK-M</text>
<text stroke="#00f" stroke-width="0.6" stroke-linejoin="miter" transform="translate(430.10 317.00) scale(0.9754 1)" font-size="60.90" fill="#00f">PPEK-Ph</text>
<text stroke="#000" stroke-width="0.6" stroke-linejoin="miter" transform="translate(250.5 1176.95) scale(0.970 1)" font-size="56.5" fill="#000">Testing Conditions: 250~380 <tspan dx="-2.3" dy="-7.6">°</tspan><tspan dy="7.6" dx="-2.6">C, 5k/min</tspan></text>
<clipPath id="c2" clipPathUnits="userSpaceOnUse"><path clip-rule="evenodd" d="M-3000 -3000H3000V3000H-3000ZM1.07 -6.77H12.44V2.00H1.07ZM20.54 -6.77H31.19V2.00H20.54ZM291.89 -34.80H298.30V-28.40H291.89ZM303.21 -34.80H309.21V-28.40H303.21Z"/></clipPath>
<text stroke="#000" stroke-width="0.6" stroke-linejoin="miter" clip-path="url(#c2)" transform="translate(1458.5 886.75) scale(0.9945 1)" font-size="54.6" fill="#000">15000 Pa s<tspan font-size="31.4" dx="1.5" dy="-30.4">-1</tspan></text>
<clipPath id="c3" clipPathUnits="userSpaceOnUse"><path clip-rule="evenodd" d="M-3000 -3000H3000V3000H-3000ZM95.37 -6.97H107.15V2.00H95.37ZM115.51 -6.97H126.55V2.00H115.51ZM269.70 -34.87H276.24V-28.40H269.70ZM281.23 -34.87H287.35V-28.40H281.23Z"/></clipPath>
<text stroke="#00f" stroke-width="0.6" stroke-linejoin="miter" clip-path="url(#c3)" transform="translate(1510.4 1144.1) scale(0.964 1)" font-size="56.5" fill="#00f">3531 Pa s<tspan font-size="32" dx="0.8" dy="-30.4">-1</tspan></text>
<path d="M1594.1 829.7V800" stroke="#000" stroke-width="1.6" fill="none"/>
<path d="M1594.1 773.1l7.8 28.3h-15.6z" fill="#000"/>
<path d="M1678.5 1071.5V1042" stroke="#00f" stroke-width="1.6" fill="none"/>
<path d="M1678.5 1013.7l7.5 28.9h-15z" fill="#00f"/>
</svg>
</body></html>
